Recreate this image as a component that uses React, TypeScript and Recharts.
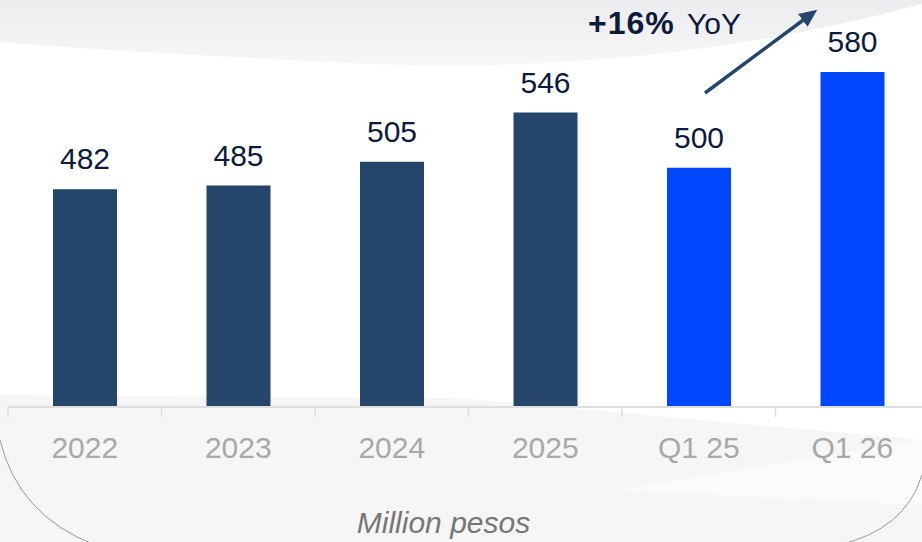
import { BarChart, Bar, XAxis, YAxis, LabelList, Cell } from "recharts"

const categories = ["2022", "2023", "2024", "2025", "Q1 25", "Q1 26"]
const revenue = [482, 485, 505, 546, 500, 580]
const quarterCategories = ["Q1 25", "Q1 26"]
const unitLabel = "Million pesos"

const NAVY = "#25456a"
const BLUE = "#0048ff"
const LABEL_DARK = "#0c1a3c"
const TICK_GRAY = "#a8a8a8"
const AXIS_GRAY = "#dedede"

const TICK_SIZE = 10
const TICK_MARGIN = 20

const data = categories.map((name, i) => ({ name, value: revenue[i] }))

// growth between the two quarters, shown as the arrow annotation
const yoy = Math.round((revenue[5] / revenue[4] - 1) * 100)

function BoundaryTick(props: any) {
  const { x, y, payload, index } = props
  const half = payload.offset ?? 0
  const axisY = y - TICK_SIZE - TICK_MARGIN
  const last = index === categories.length - 1
  return (
    <g>
      <line x1={x - half} x2={x - half} y1={axisY} y2={axisY + TICK_SIZE} stroke={AXIS_GRAY} strokeWidth={1.5} />
      {last && (
        <line x1={x + half} x2={x + half} y1={axisY} y2={axisY + TICK_SIZE} stroke={AXIS_GRAY} strokeWidth={1.5} />
      )}
      <text x={x} y={y} dy="0.71em" textAnchor="middle" fontSize={30} fill={TICK_GRAY}>
        {payload.value}
      </text>
    </g>
  )
}

function Backdrop() {
  return (
    <svg width={922} height={542} style={{ position: "absolute", left: 0, top: 0 }}>
      <defs>
        <linearGradient id="topFade" x1="0" y1="0" x2="0" y2="1">
          <stop offset="0%" stopColor="#ececee" />
          <stop offset="100%" stopColor="#f7f7f8" />
        </linearGradient>
      </defs>
      <rect width={922} height={542} fill="#ffffff" />
      <path d="M0,0 L922,0 L922,4 Q 640,80 330,62 Q 120,52 0,42 Z" fill="url(#topFade)" />
      <path d="M0,395 L460,398 L922,440 L922,542 L0,542 Z" fill="#f6f6f6" />
      <path d="M922,440 L620,490 L922,505 Z" fill="#fbfbfb" />
      <path d="M0,440 Q 18,515 95,545" fill="none" stroke="#9a9a9a" strokeWidth={1} />
      <path d="M922,475 Q 905,530 838,545" fill="none" stroke="#9a9a9a" strokeWidth={1} />
    </svg>
  )
}

function Annotation() {
  return (
    <svg width={922} height={542} style={{ position: "absolute", left: 0, top: 0, pointerEvents: "none" }}>
      <defs>
        <marker id="head" markerWidth={20} markerHeight={20} refX={4} refY={8} orient="auto" markerUnits="userSpaceOnUse">
          <path d="M0,0 L18,8 L0,16 Z" fill={NAVY} />
        </marker>
      </defs>
      <line x1={705} y1={93} x2={806} y2={18} stroke={NAVY} strokeWidth={3.5} markerEnd="url(#head)" />
      <text x={588} y={34} fontSize={30} fill={LABEL_DARK}>
        <tspan fontWeight={700} fontSize={32} letterSpacing={1}>+{yoy}%</tspan>
        <tspan x={687}>YoY</tspan>
      </text>
    </svg>
  )
}

export default function App() {
  return (
    <div
      style={{
        position: "fixed",
        left: 0,
        top: 0,
        width: 922,
        height: 542,
        overflow: "hidden",
        fontFamily: "'Liberation Sans', Arial, sans-serif",
      }}
    >
      <Backdrop />
      <div style={{ position: "absolute", left: 0, top: 0 }}>
        <BarChart width={930} height={542} data={data} margin={{ top: 48, right: 1, bottom: 0, left: 8 }}>
          <YAxis hide domain={[300, 600]} />
          <XAxis
            dataKey="name"
            interval={0}
            height={135}
            tickLine={false}
            tickSize={TICK_SIZE}
            tickMargin={TICK_MARGIN}
            axisLine={{ stroke: AXIS_GRAY, strokeWidth: 2 }}
            tick={<BoundaryTick />}
            label={{
              value: unitLabel,
              position: "insideBottom",
              offset: 9,
              dx: -25,
              fill: "#767676",
              fontSize: 30,
              fontStyle: "italic",
            }}
          />
          <Bar dataKey="value" barSize={64} isAnimationActive={false}>
            {data.map((d) => (
              <Cell key={d.name} fill={quarterCategories.includes(d.name) ? BLUE : NAVY} />
            ))}
            <LabelList dataKey="value" position="top" offset={20} fill={LABEL_DARK} fontSize={30} />
          </Bar>
        </BarChart>
      </div>
      <Annotation />
    </div>
  )
}
